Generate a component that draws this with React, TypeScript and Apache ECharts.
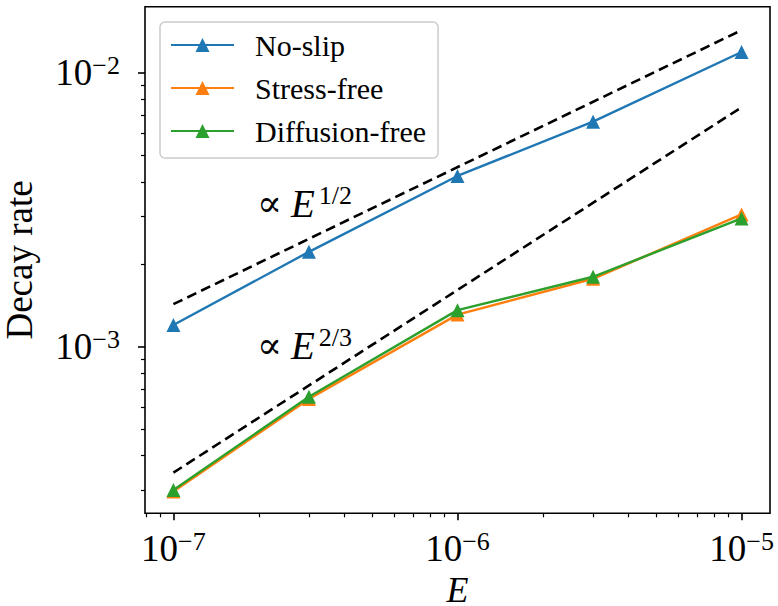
import React, { useEffect, useRef } from 'react';
import * as echarts from 'echarts';

// ---------- data ----------
const ekman = [1e-7, 3e-7, 1e-6, 3e-6, 1e-5];
const noSlip = [1.2e-3, 2.22e-3, 4.2e-3, 6.63e-3, 1.19e-2];
const stressFree = [2.96e-4, 6.45e-4, 1.31e-3, 1.77e-3, 3.04e-3];
const diffusionFree = [3.0e-4, 6.57e-4, 1.36e-3, 1.8e-3, 2.94e-3];

const guideX = [1e-7, 1e-5];
const guideHalf = [1.43e-3, 1.43e-2];
const guideTwoThirds = [3.47e-4, 7.48e-3];

const majorTicksX = [1e-7, 1e-6, 1e-5];
const minorTicksX = [8e-8, 9e-8, 2e-7, 3e-7, 4e-7, 5e-7, 6e-7, 7e-7, 8e-7, 9e-7, 2e-6, 3e-6, 4e-6, 5e-6, 6e-6, 7e-6, 8e-6, 9e-6];
const majorTicksY = [1e-3, 1e-2];
const minorTicksY = [3e-4, 4e-4, 5e-4, 6e-4, 7e-4, 8e-4, 9e-4, 2e-3, 3e-3, 4e-3, 5e-3, 6e-3, 7e-3, 8e-3, 9e-3];

const seriesNames = ['No-slip', 'Stress-free', 'Diffusion-free'];
const seriesColors = ['#1f77b4', '#ff7f0e', '#2ca02c'];
const annotationTexts = ['1/2', '2/3'];
const annotationAnchors = [[2e-7, 3.0e-3], [2e-7, 9.17e-4]];

const X_MIN = Math.pow(10, -7.1);
const X_MAX = Math.pow(10, -4.9);
const Y_MIN = Math.pow(10, -3.608);
const Y_MAX = Math.pow(10, -1.759);

const FONT = '"Liberation Serif", "DejaVu Serif", serif';

const pairs = (xs: number[], ys: number[]) => xs.map((x, i) => [x, ys[i]]);

const tickRich = {
  b: { fontSize: 37, fontFamily: FONT, color: '#000', lineHeight: 41 },
  s: { fontSize: 26, fontFamily: FONT, color: '#000', lineHeight: 22, verticalAlign: 'top' as const },
};
const powerLabel = (v: number) => {
  const e = Math.round(Math.log10(v));
  return `{b|10}{s|${e < 0 ? '\u2212' : ''}${Math.abs(e)}}`;
};

export default function App() {
  const ref = useRef<HTMLDivElement>(null);
  useEffect(() => {
    document.body.style.margin = '0';
    if (!ref.current) return;
    const chart = echarts.init(ref.current, undefined, { renderer: 'svg' });
    const dataSeries = seriesNames.map((name, i) => ({
      name,
      type: 'line',
      xAxisIndex: 0,
      yAxisIndex: 0,
      data: pairs(ekman, [noSlip, stressFree, diffusionFree][i]),
      symbol: 'triangle',
      symbolSize: 14,
      lineStyle: { color: seriesColors[i], width: 2.4 },
      itemStyle: { color: seriesColors[i] },
      z: 3 + i,
    }));
    const guides = [guideHalf, guideTwoThirds].map((g) => ({
      type: 'line',
      xAxisIndex: 0,
      yAxisIndex: 0,
      data: pairs(guideX, g),
      symbol: 'none',
      lineStyle: { color: '#000', width: 2.6, type: [10, 5.4] },
      z: 6,
      silent: true,
    }));
    const option: any = {
      animation: false,
      textStyle: { fontFamily: FONT },
      grid: {
        left: 145,
        right: 8,
        top: 6.7,
        bottom: 92.7,
        containLabel: false,
        outerBoundsMode: 'none',
        show: true,
        borderColor: '#000',
        borderWidth: 1.6,
        backgroundColor: '#fff',
      },
      legend: {
        data: seriesNames,
        orient: 'vertical',
        left: 160,
        top: 22,
        itemWidth: 63,
        itemHeight: 17.5,
        itemGap: 13,
        padding: [8, 12, 12, 10],
        backgroundColor: 'rgba(255,255,255,0.8)',
        borderColor: '#cccccc',
        borderWidth: 1.5,
        borderRadius: 5,
        textStyle: { fontSize: 30, fontFamily: FONT, fontStyle: 'normal', color: '#000', padding: [0, 0, 0, 16] },
      },
      xAxis: [
        {
          type: 'log',
          logBase: 10,
          min: X_MIN,
          max: X_MAX,
          position: 'bottom',
          name: 'E',
          nameLocation: 'middle',
          nameGap: 48,
          nameTextStyle: { fontSize: 36, lineHeight: 36, fontFamily: FONT, fontStyle: 'italic', color: '#000' },
          axisLine: { show: false },
          splitLine: { show: false },
          axisTick: { show: true, length: 7, lineStyle: { color: '#000', width: 1.6 }, customValues: majorTicksX },
          axisLabel: { show: true, margin: 15, customValues: majorTicksX, formatter: powerLabel, rich: tickRich },
        },
        {
          type: 'log',
          logBase: 10,
          min: X_MIN,
          max: X_MAX,
          position: 'bottom',
          axisLine: { show: false },
          splitLine: { show: false },
          axisTick: { show: true, length: 4, lineStyle: { color: '#000', width: 1.2 }, customValues: minorTicksX },
          axisLabel: { show: false },
        },
      ],
      yAxis: [
        {
          type: 'log',
          logBase: 10,
          min: Y_MIN,
          max: Y_MAX,
          position: 'left',
          name: 'Decay rate',
          nameLocation: 'middle',
          nameGap: 107,
          nameTextStyle: { fontSize: 37, fontFamily: FONT, color: '#000' },
          axisLine: { show: false },
          splitLine: { show: false },
          axisTick: { show: true, length: 7, lineStyle: { color: '#000', width: 1.6 }, customValues: majorTicksY },
          axisLabel: { show: true, margin: 25, customValues: majorTicksY, formatter: powerLabel, rich: tickRich },
        },
        {
          type: 'log',
          logBase: 10,
          min: Y_MIN,
          max: Y_MAX,
          position: 'left',
          axisLine: { show: false },
          splitLine: { show: false },
          axisTick: { show: true, length: 4, lineStyle: { color: '#000', width: 1.2 }, customValues: minorTicksY },
          axisLabel: { show: false },
        },
      ],
      series: [...dataSeries, ...guides],
    };
    chart.setOption(option);

    const graphics = annotationAnchors.map((a, i) => {
      const p = chart.convertToPixel({ xAxisIndex: 0, yAxisIndex: 0 }, a) as number[];
      return {
        type: 'text',
        z: 10,
        x: p[0] - 2,
        y: p[1] - 33,
        style: {
          text: `{p|\u221D}{e|E}{s|${annotationTexts[i]}}`,
          verticalAlign: 'top',
          align: 'left',
          rich: {
            p: { fontSize: 37, fontFamily: FONT, color: '#000', lineHeight: 42, padding: [0, 9, 0, 0] },
            e: { fontSize: 39, fontFamily: FONT, fontStyle: 'italic', color: '#000', lineHeight: 42, padding: [0, 4, 0, 0] },
            s: { fontSize: 26, fontFamily: FONT, color: '#000', lineHeight: 16, verticalAlign: 'top' },
          },
        },
      };
    });
    chart.setOption({ graphic: graphics });

    return () => chart.dispose();
  }, []);
  return <div ref={ref} style={{ width: 778, height: 606 }} />;
}
